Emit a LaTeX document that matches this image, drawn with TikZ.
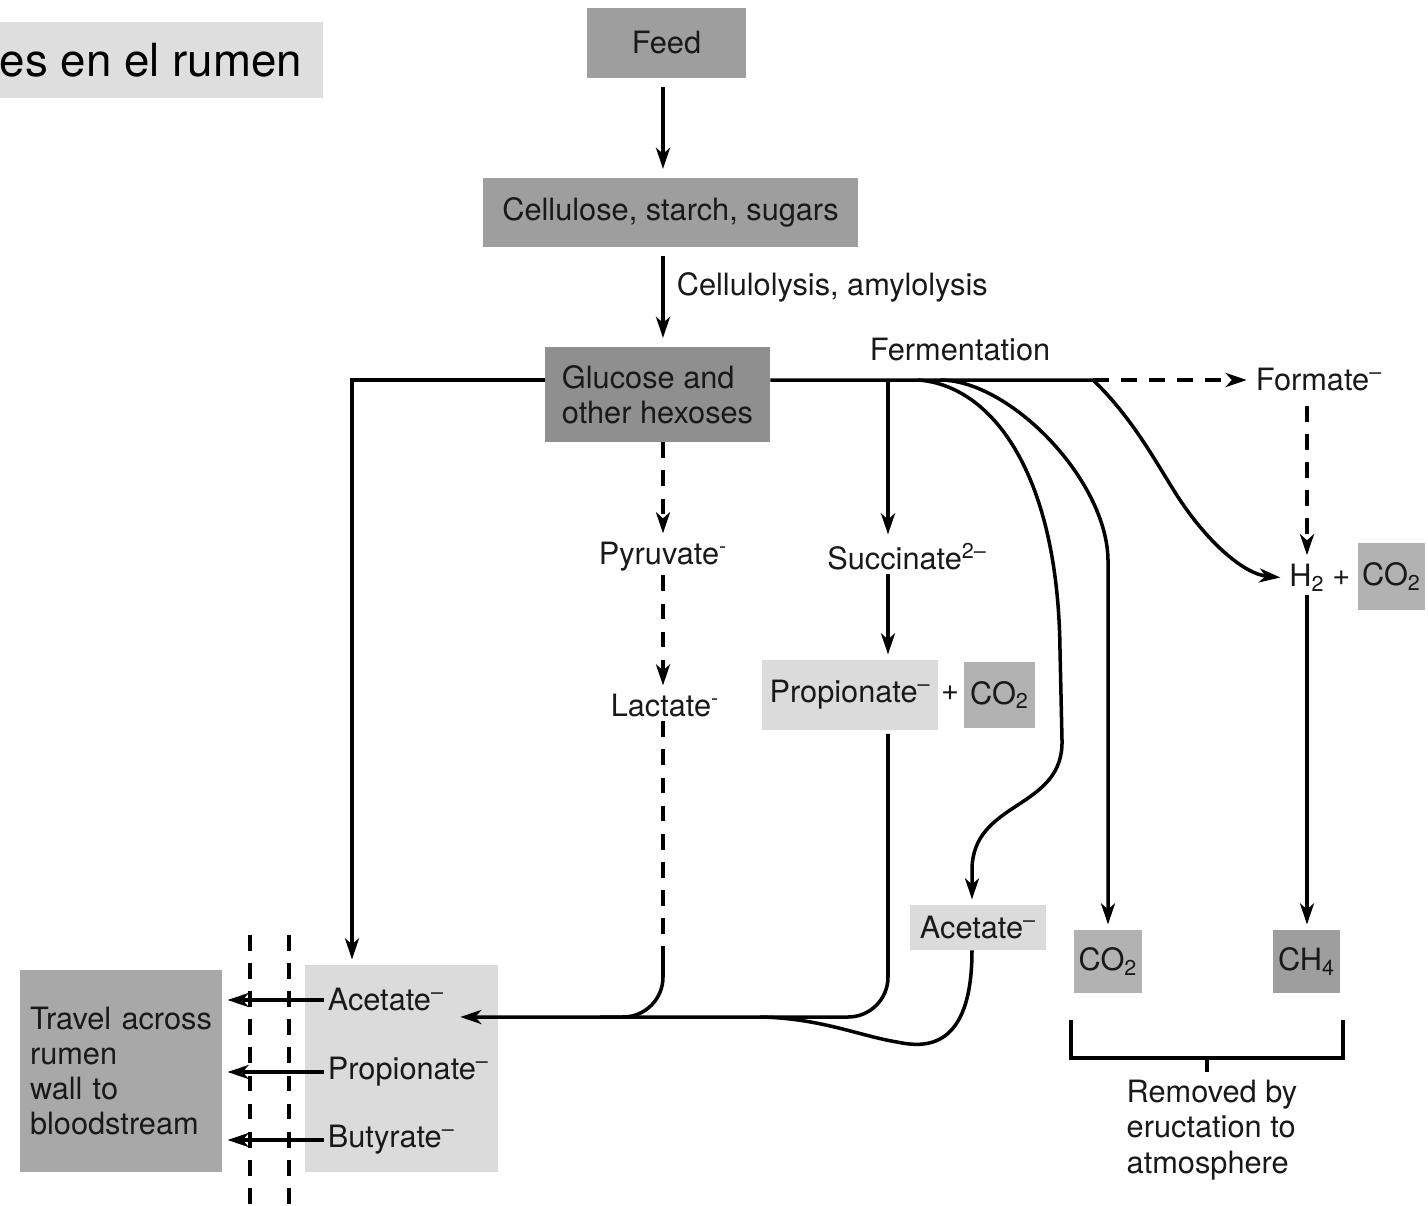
\documentclass[tikz,border=0pt]{standalone}
\usepackage{fontspec}
\setmainfont{TeX Gyre Heros}
\usepackage{tikz}
\usetikzlibrary{calc,arrows.meta,positioning}
\definecolor{titlegrey}{gray}{0.87}
\definecolor{lightgrey}{gray}{0.86}
\definecolor{midgrey}{gray}{0.70}
\definecolor{darkgrey}{gray}{0.62}
\definecolor{deepgrey}{gray}{0.56}
\definecolor{travelgrey}{gray}{0.66}

\begin{document}
\begin{tikzpicture}[x=0.02cm,y=-0.02cm]

\tikzset{box/.style={font=\fontsize{17.5}{20}\selectfont,inner sep=0pt,text=black!90},
darkbox/.style={box,fill=darkgrey},
deepbox/.style={box,fill=deepgrey},
midbox/.style={box,fill=midgrey},
lightbox/.style={box,fill=lightgrey},
lbl/.style={font=\fontsize{17.5}{20}\selectfont,inner sep=2pt,text=black!90},
solidline/.style={line width=2pt},
dline/.style={solidline,dash pattern=on 9pt off 7pt},
flow/.style={solidline,-{Stealth[length=12pt,width=8pt,inset=3.5pt]},shorten >=3pt},
dflow/.style={flow,dash pattern=on 9pt off 7pt}}

\useasboundingbox (0,0) rectangle (1428,1205);

% Title
\node[box,fill=titlegrey,minimum width=6.46cm,minimum height=1.52cm] (title) at (161.5,60) {};
\node[font=\fontsize{26}{30}\selectfont,inner sep=0pt,left=0.42cm of title.east] (titletext) {es en el rumen};

% Main chain
\node[darkbox,minimum width=3.18cm,minimum height=1.4cm] (feed) at (666.5,43) {Feed};
\node[darkbox,minimum width=7.5cm,minimum height=1.38cm] (cell) at (670.5,212.5) {Cellulose, starch, sugars};
\node[deepbox,minimum width=4.5cm,minimum height=1.9cm,align=left] (gluc) at (657.5,394.5) {Glucose and\\other hexoses};
\node[lbl,anchor=west] (cellab) at (673,287) {Cellulolysis, amylolysis};
\node[lbl] (ferm) at (960,350) {Fermentation};

% Intermediates
\node[lbl] (pyr) at (663,557) {Pyruvate\textsuperscript{-}};
\node[lbl] (lac) at (665,706) {Lactate\textsuperscript{-}};
\node[lbl] (succ) at (907,557) {Succinate\textsuperscript{2--}};
\node[lightbox,minimum width=3.52cm,minimum height=1.4cm] (prop) at (850,695) {Propionate\textsuperscript{--}};
\node[lbl] (plus1) at (950,693) {+};
\node[midbox,minimum width=1.42cm,minimum height=1.32cm] (co2a) at (999.5,695) {CO\textsubscript{2}};
\node[lbl,anchor=west] (form) at (1252,380) {Formate\textsuperscript{--}};
\node[lbl] (h2) at (1307,578) {H\textsubscript{2}};
\node[lbl,right=0pt of h2] (plus2) {+};
\node[midbox,minimum width=1.34cm,minimum height=1.34cm] (co2c) at (1391.5,576.5) {CO\textsubscript{2}};

% End products
\node[lightbox,minimum width=2.72cm,minimum height=0.9cm] (acet2) at (978,927.5) {Acetate\textsuperscript{--}};
\node[midbox,minimum width=1.36cm,minimum height=1.26cm] (co2b) at (1108,961.5) {CO\textsubscript{2}};
\node[darkbox,minimum width=1.34cm,minimum height=1.26cm] (ch4) at (1306.5,961.5) {CH\textsubscript{4}};
\node[lbl,align=left] (removed) at (1212,1130) {Removed by\\eructation to\\atmosphere};

% Rumen wall
\node[lightbox,minimum width=3.86cm,minimum height=4.14cm] (vfa) at (401.5,1068.5) {};
\node[box,fill=travelgrey,minimum width=4.04cm,minimum height=4.04cm,text width=3.64cm,align=left] (travel) at (121,1071) {Travel across\\rumen\\wall to\\bloodstream};
\node[lbl,anchor=west] (acL) at (324,1000) {Acetate\textsuperscript{--}};
\node[lbl,anchor=west] (propL) at (324,1072) {Propionate\textsuperscript{--}};
\node[lbl,anchor=west] (butL) at (324,1140) {Butyrate\textsuperscript{--}};

% Branch points
\coordinate (fs1) at (888,380);
\coordinate (fa) at (918,380);
\coordinate (fb) at (940,380);
\coordinate (fsplit) at (1093,380);
\coordinate (lacend) at (663,955);
\coordinate (vfain) at (455,1017);
\coordinate (brl) at (1071,1020);
\coordinate (brr) at (1343,1020);
\coordinate (brb) at (1207,1058);

% Edges
\draw[flow,shorten <=5pt,shorten >=5pt] (feed.south -| lacend) -- (cell.north -| lacend);
\draw[flow,shorten <=5pt,shorten >=5pt] (cell.south -| lacend) -- (gluc.north -| lacend);
\draw[flow] ([yshift=0.29cm]gluc.west) -| ([xshift=-0.99cm]vfa.north);
\draw[solidline] ([yshift=0.29cm]gluc.east) -- (fsplit);
\draw[dflow] (fsplit) -- (form.west);
\draw[flow] (fs1) -- (succ.north -| fs1);
\draw[flow] (succ.south -| fs1) -- (prop.north -| fs1);
\draw[dflow] (gluc.south -| pyr.north) -- (pyr.north);
\draw[dflow] (pyr.south) -- (lac.north -| pyr.south);
\draw[dline] (lac.south -| lacend) -- (lacend);
\draw[solidline,rounded corners=0.8cm] (lacend) |- (600,1017);
\draw[flow,rounded corners=0.8cm,shorten <=2pt] (prop.south -| fs1) -- (fs1 |- vfain) -- (vfain);
\draw[flow] (fa) .. controls (990,385) and (1058,470) .. (1060,650) -- (1062,740) .. controls (1064,810) and (972,800) .. (972,870) -- ([xshift=-0.12cm]acet2.north);
\draw[flow] (fb) .. controls (1010,380) and (1107,480) .. (1108,560) -- (co2b.north);
\draw[flow] (fsplit) .. controls (1135,420) and (1160,470) .. (1180,500) .. controls (1210,545) and (1245,574) .. (h2.west);
\draw[dflow,shorten <=6pt] (form.south -| h2.north) -- (h2.north);
\draw[flow] (h2.south) -- (h2.south |- ch4.north);
\draw[solidline] ([xshift=-0.12cm]acet2.south) .. controls (972,1050) and (925,1048) .. (897,1042) .. controls (860,1036) and (820,1018) .. (760,1017);
\draw[solidline] (brl) |- (brb) -| (brr);
\draw[solidline] (brb) -- ++(0,14);
\draw[dline] (250,935) -- (250,1205);
\draw[dline] (289,935) -- (289,1205);
\draw[flow] (acL.west) -- (acL.west -| travel.east);
\draw[flow] (propL.west) -- (propL.west -| travel.east);
\draw[flow] (butL.west) -- (butL.west -| travel.east);

\end{tikzpicture}
\end{document}
